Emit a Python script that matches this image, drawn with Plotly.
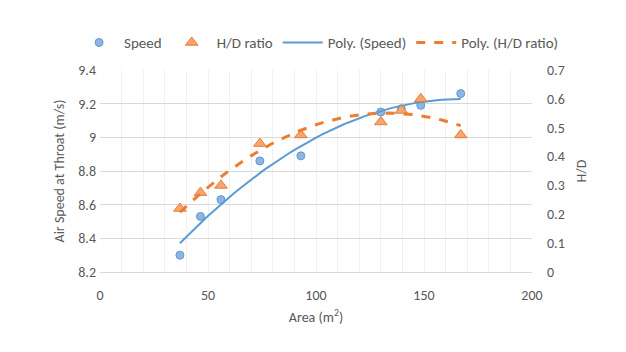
import numpy as np
import plotly.graph_objects as go

# data
speed_area = [37, 46.5, 56, 74, 93, 130, 139.5, 148.5, 167]
speed = [8.30, 8.53, 8.63, 8.86, 8.89, 9.15, 9.17, 9.19, 9.26]

hd_area = [37, 46.5, 56, 74, 93, 130, 139.5, 148.5, 167]
hd_ratio = [0.22, 0.275, 0.30, 0.445, 0.475, 0.52, 0.56, 0.60, 0.475]

GREY = "#595959"
FONT = "Calibri, Carlito, Lato, sans-serif"


def poly_trend(x, y, n=60):
    # 2nd order polynomial trendline, as excel draws it
    c = np.polyfit(x, y, 2)
    xs = np.linspace(min(x), max(x), n)
    return xs, np.polyval(c, xs)


fig = go.Figure()

fig.add_trace(go.Scatter(
    x=speed_area, y=speed, mode="markers", name="Speed",
    marker=dict(symbol="circle", size=8, color="#8EB4E3", line=dict(color="#5B9BD5", width=1)),
))
fig.add_trace(go.Scatter(
    x=hd_area, y=hd_ratio, mode="markers", name="H/D ratio", yaxis="y2",
    marker=dict(symbol="triangle-up", size=11, color="#F4A571", line=dict(color="#ED7D31", width=1)),
))

tx, ty = poly_trend(speed_area, speed)
fig.add_trace(go.Scatter(
    x=tx, y=ty, mode="lines", name="Poly. (Speed)",
    line=dict(color="#5B9BD5", width=2),
))
tx2, ty2 = poly_trend(hd_area, hd_ratio)
fig.add_trace(go.Scatter(
    x=tx2, y=ty2, mode="lines", name="Poly. (H/D ratio)", yaxis="y2",
    line=dict(color="#ED7D31", width=3, dash="dash"),
))

# page body adds an 8px offset, margins are set with that in mind
fig.update_layout(
    width=626, height=352,
    margin=dict(l=92, r=102, t=62, b=88, autoexpand=False),
    paper_bgcolor="white", plot_bgcolor="white",
    font=dict(family=FONT, size=14, color=GREY),
    # x < 0 so the horizontal legend may use the left margin too
    legend=dict(orientation="h", x=-0.06, xanchor="left", y=1.135, yanchor="middle",
                font=dict(size=15, color=GREY), itemwidth=40, tracegroupgap=0),
    xaxis=dict(
        range=[0, 200], tick0=0, dtick=50, automargin=False,
        title=dict(text="Area (m<sup>2</sup>)", font=dict(size=14, color=GREY), standoff=9),
        showgrid=True, gridcolor="#F0F0F0",
        minor=dict(dtick=10, showgrid=True, gridcolor="#F0F0F0"),
        showline=True, linecolor="#D9D9D9", zeroline=False,
        ticks="", ticklabelstandoff=10, tickfont=dict(size=14, color=GREY),
    ),
    yaxis=dict(
        range=[8.2, 9.4], dtick=0.2, tickformat="~g", automargin=False,
        title=dict(text="Air Speed at Throat (m/s)", font=dict(size=14, color=GREY), standoff=10),
        showgrid=True, gridcolor="#D9D9D9", zeroline=False,
        ticks="", ticklabelstandoff=3, tickfont=dict(size=14, color=GREY),
    ),
    yaxis2=dict(
        range=[0, 0.7], dtick=0.1, tickformat="~g", overlaying="y", side="right",
        automargin=False,
        title=dict(text="H/D", font=dict(size=14, color=GREY), standoff=12),
        showgrid=False, zeroline=False,
        ticks="", ticklabelstandoff=14, tickfont=dict(size=14, color=GREY),
    ),
)

fig.write_html("out.html")
